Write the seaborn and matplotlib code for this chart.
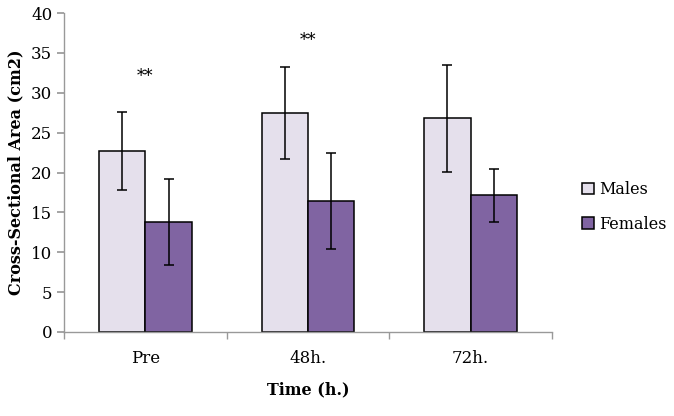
import matplotlib
matplotlib.use("Agg")
import matplotlib.pyplot as plt
import seaborn as sns
import pandas as pd
import numpy as np

categories = ["Pre", "48h.", "72h."]
groups = ["Males", "Females"]
males = [22.7, 27.4, 26.8]
females = [13.8, 16.4, 17.2]
males_err_hi = [27.6, 33.2, 33.5]
males_err_lo = [17.8, 21.7, 20.1]
females_err_hi = [19.2, 22.4, 20.4]
females_err_lo = [8.4, 10.4, 13.8]
stars = ["**", "**", ""]
star_y = [32.1, 36.6, 0]

sns.set_theme(style="white")
plt.rcParams['font.family'] = ['DejaVu Serif']
plt.rcParams['text.color'] = 'black'
plt.rcParams['axes.labelcolor'] = 'black'
plt.rcParams['xtick.color'] = 'black'
plt.rcParams['ytick.color'] = 'black'

df = pd.DataFrame({
    "Time": categories * 2,
    "Group": ["Males"] * 3 + ["Females"] * 3,
    "Value": males + females,
})

fig = plt.figure(figsize=(6.74, 4.16), dpi=100)
ax = fig.add_axes([64/674, 1-332/416, (552-64)/674, (332-13)/416])
palette = {"Males": "#E5E0EC", "Females": "#8064A2"}
sns.barplot(data=df, x="Time", y="Value", hue="Group", order=categories,
            hue_order=groups, palette=palette, saturation=1, width=0.57,
            edgecolor="black", linewidth=1.1, errorbar=None, ax=ax, legend=True)

# error bars
his = {"Males": males_err_hi, "Females": females_err_hi}
los = {"Males": males_err_lo, "Females": females_err_lo}
vals = {"Males": males, "Females": females}
bar_containers = list(ax.containers)
for gi, container in enumerate(bar_containers):
    g = groups[gi]
    for ci, bar in enumerate(container):
        xc = bar.get_x() + bar.get_width() / 2
        v = vals[g][ci]
        ax.errorbar(xc, v, yerr=[[v - los[g][ci]], [his[g][ci] - v]],
                    fmt="none", ecolor="black", elinewidth=1.1, capsize=3.5, capthick=1.1)

for i, s in enumerate(stars):
    if s:
        ax.text(i, star_y[i], s, ha="center", va="center", fontsize=12)

ax.set_xlim(-0.5, 2.5)
ax.set_ylim(0, 40)
ax.set_yticks(np.arange(0, 41, 5))
ax.set_xticks([0, 1, 2])
ax.set_xticklabels(categories, fontsize=12)
ax.set_xticks([-0.5, 0.5, 1.5, 2.5], minor=True)
ax.tick_params(axis="x", which="major", length=0, pad=13)
ax.tick_params(axis="x", which="minor", length=5, color="#999999", direction="out", bottom=True)
ax.tick_params(axis="y", length=5, color="#999999", labelcolor="black", direction="out", left=True, labelsize=12)
for sp in ["top", "right"]:
    ax.spines[sp].set_visible(False)
for sp in ["left", "bottom"]:
    ax.spines[sp].set_color("#999999")
    ax.spines[sp].set_linewidth(1.0)

ax.set_xlabel("Time (h.)", fontsize=11.5, fontweight="bold", labelpad=10)
ax.set_ylabel("Cross-Sectional Area (cm2)", fontsize=11.5, fontweight="bold", labelpad=5)

leg = ax.legend(loc="center left", bbox_to_anchor=(582/674, 1-207/416),
                bbox_transform=fig.transFigure, frameon=False, borderpad=0,
                borderaxespad=0, fontsize=11.5, handlelength=0.75, handleheight=0.75,
                handletextpad=0.3, labelspacing=1.1)

fig.savefig("out.png", dpi=100)
